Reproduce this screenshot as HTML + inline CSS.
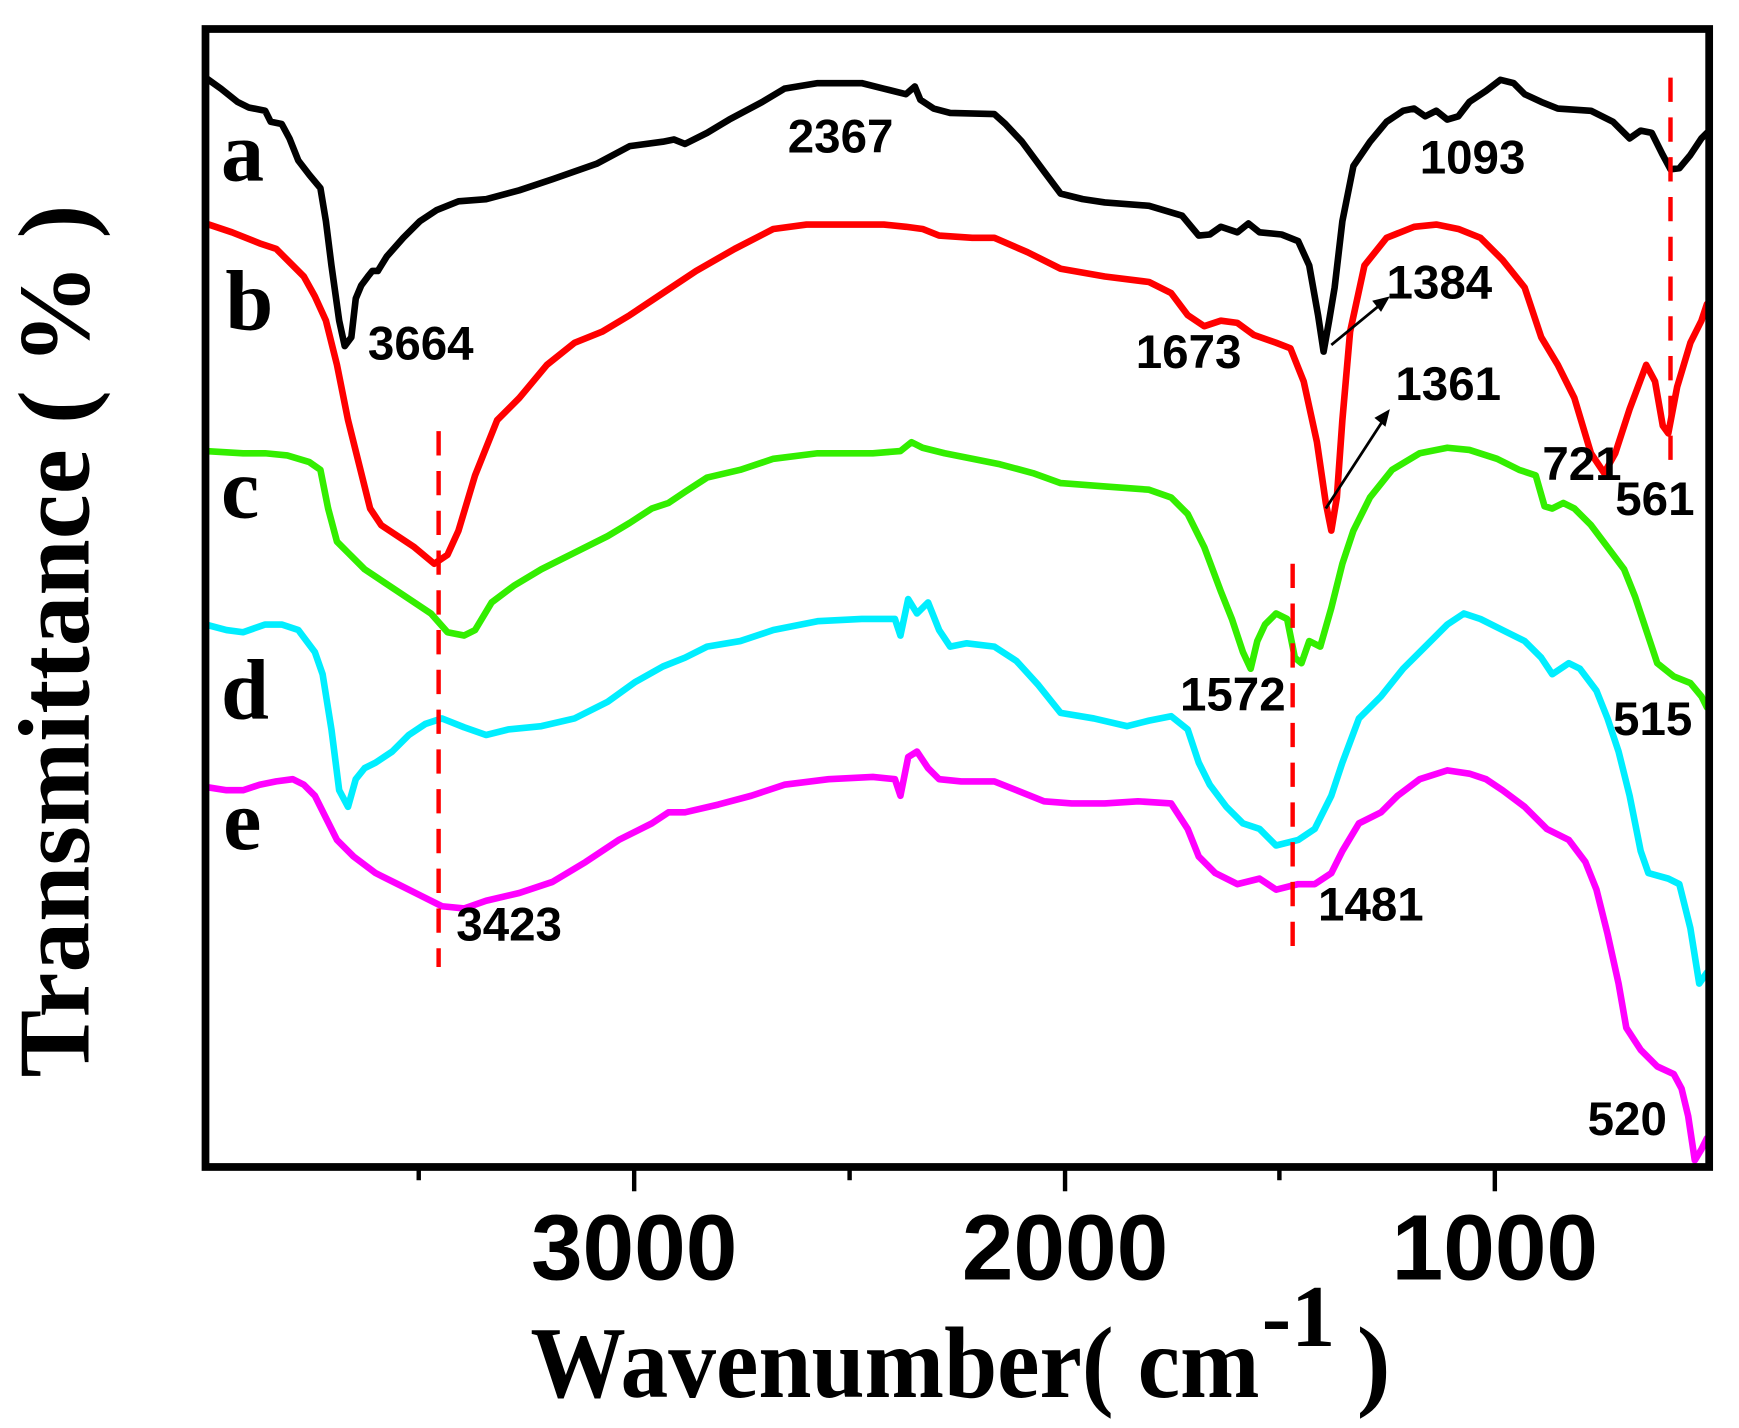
<!DOCTYPE html>
<html><head><meta charset="utf-8"><style>html,body{margin:0;padding:0;background:#fff}svg{display:block}</style></head>
<body>
<svg width="1739" height="1428" viewBox="0 0 1574 1292" xmlns="http://www.w3.org/2000/svg">
<g fill="none" stroke-linejoin="round" stroke-linecap="round" stroke-width="6">
<polyline stroke="#000" points="186,70 200,80 215,92 225,97 240,100 245,110 255,112 262,125 270,145 280,158 290,170 295,200 300,240 307,290 312,313 318,305 322,270 327,258 333,250 337,245 342,245 350,232 365,215 380,200 395,190 415,182 440,180 470,172 500,162 540,148 570,132 600,128 610,126 620,130 640,120 660,108 690,92 710,80 740,75 780,75 800,80 820,85 828,78 833,90 845,98 860,102 900,103 910,112 925,128 945,155 960,175 980,180 1000,183 1040,186 1070,195 1085,213 1095,212 1105,205 1120,210 1130,202 1140,210 1160,212 1175,218 1185,240 1193,285 1198,318 1203,290 1208,260 1215,200 1225,150 1240,128 1255,110 1270,100 1280,98 1290,105 1300,100 1310,108 1320,105 1330,92 1345,82 1358,72 1370,75 1380,85 1395,92 1410,98 1440,100 1460,110 1475,125 1485,118 1495,120 1505,140 1512,153 1520,152 1530,140 1540,125 1545,120"/>
<polyline stroke="#ff0000" points="186,202 210,210 235,220 250,225 262,237 275,250 285,268 295,290 305,330 315,380 325,420 335,460 345,475 360,485 375,495 393,510 405,502 415,480 430,430 450,380 470,360 495,330 520,310 545,300 570,285 600,265 630,245 665,225 700,207 730,203 800,203 820,205 835,207 850,213 880,215 900,215 930,228 960,243 1000,250 1040,255 1060,265 1075,285 1090,295 1105,290 1120,292 1135,303 1155,310 1168,315 1180,345 1192,400 1200,455 1205,480 1210,450 1215,380 1222,300 1235,240 1255,215 1280,205 1300,203 1320,207 1340,215 1360,235 1380,260 1395,305 1410,330 1425,360 1440,410 1452,428 1462,410 1475,370 1490,330 1498,345 1505,385 1510,392 1518,350 1530,310 1540,290 1545,275"/>
<polyline stroke="#33ee00" points="186,408 220,410 240,410 260,412 280,418 290,425 297,460 305,490 315,500 330,515 360,535 390,555 405,572 420,575 430,570 445,545 465,530 490,515 520,500 550,485 570,473 590,460 605,455 620,445 640,432 670,425 700,415 740,410 790,410 815,408 825,400 835,405 855,410 880,415 905,420 935,428 960,437 1000,440 1040,443 1060,450 1075,465 1090,495 1105,535 1115,560 1125,590 1132,605 1138,580 1145,565 1155,555 1165,560 1172,595 1178,600 1185,580 1195,585 1205,550 1215,510 1225,480 1240,450 1260,425 1285,410 1310,405 1330,407 1355,415 1375,425 1390,430 1398,458 1405,460 1415,455 1425,460 1440,475 1455,495 1470,515 1480,540 1490,570 1500,600 1515,612 1530,618 1540,630 1545,640"/>
<polyline stroke="#00eeff" points="186,565 205,570 220,572 240,565 255,565 270,570 285,590 292,610 300,660 307,715 315,730 322,705 330,695 340,690 355,680 370,665 385,655 400,650 420,658 440,665 460,660 490,657 520,650 550,635 575,617 600,603 620,595 640,585 670,580 700,570 740,562 780,560 810,560 815,575 822,542 830,555 840,545 850,570 860,585 875,582 900,585 920,598 940,620 960,645 990,650 1020,657 1040,652 1060,648 1075,660 1085,690 1095,710 1110,730 1125,745 1140,750 1155,765 1175,760 1190,750 1205,720 1215,690 1230,650 1250,630 1270,605 1290,585 1310,565 1325,555 1340,560 1360,570 1380,580 1395,595 1405,610 1420,600 1430,605 1445,625 1455,650 1465,680 1475,720 1485,770 1492,790 1510,795 1520,800 1525,820 1530,840 1538,890 1545,880"/>
<polyline stroke="#ff00ff" points="186,712 205,715 220,715 235,710 250,707 265,705 275,710 285,720 295,740 305,760 320,775 340,790 360,800 380,810 400,820 420,822 440,815 470,808 500,798 530,780 560,760 590,745 605,735 620,735 650,728 680,720 710,710 750,705 790,703 810,705 815,720 822,685 830,680 840,695 850,705 870,707 900,707 920,715 945,725 970,727 1000,727 1030,725 1060,727 1075,750 1085,775 1100,790 1120,800 1140,795 1155,805 1175,800 1190,800 1205,790 1215,770 1230,745 1250,735 1265,720 1285,705 1310,697 1330,700 1345,705 1360,715 1380,730 1400,750 1420,760 1435,780 1445,805 1455,845 1465,890 1472,930 1485,950 1500,965 1515,972 1522,985 1528,1010 1534,1050 1540,1040 1545,1030"/>
</g>
<g stroke="#ff0000" stroke-width="4" stroke-dasharray="22,14">
<line x1="397" y1="390" x2="397" y2="875"/>
<line x1="1170" y1="510" x2="1170" y2="870"/>
<line x1="1512" y1="70" x2="1512" y2="430"/>
</g>
<g stroke="#000" stroke-width="2.5">
<line x1="1205" y1="312" x2="1250" y2="275"/>
<line x1="1200" y1="460" x2="1252" y2="380"/>
</g>
<polygon points="1258,268 1242,272 1250,282" fill="#000"/>
<polygon points="1258,370 1244,378 1254,386" fill="#000"/>
<rect x="186" y="26" width="1361" height="1030" fill="none" stroke="#000" stroke-width="7"/>
<g stroke="#000" stroke-width="4">
<line x1="574" y1="1056" x2="574" y2="1078"/><line x1="964" y1="1056" x2="964" y2="1078"/><line x1="1353" y1="1056" x2="1353" y2="1078"/>
<line x1="379" y1="1056" x2="379" y2="1068"/><line x1="769" y1="1056" x2="769" y2="1068"/><line x1="1158" y1="1056" x2="1158" y2="1068"/>
</g>
<g font-family="Liberation Sans, Arial, sans-serif" font-weight="bold" font-size="84" text-anchor="middle">
<text x="574" y="1158">3000</text><text x="964" y="1158">2000</text><text x="1353" y="1158">1000</text>
</g>
<g font-family="Liberation Sans, Arial, sans-serif" font-weight="bold" font-size="43">
<text x="333" y="325">3664</text><text x="713" y="138">2367</text><text x="1285" y="157">1093</text>
<text x="1028" y="333">1673</text><text x="1255" y="270">1384</text><text x="1263" y="362">1361</text>
<text x="1396" y="434">721</text><text x="1462" y="466">561</text><text x="1068" y="643">1572</text>
<text x="1460" y="665">515</text><text x="413" y="851">3423</text><text x="1193" y="833">1481</text>
<text x="1437" y="1027">520</text>
</g>
<g font-family="Liberation Serif, Times New Roman, serif" font-weight="bold" font-size="78">
<text x="200" y="163">a</text><text x="204" y="298">b</text><text x="200" y="468">c</text><text x="200" y="650">d</text><text x="202" y="768">e</text>
</g>
<text x="480" y="1264" font-family="Liberation Serif, serif" font-weight="bold" font-size="92" textLength="660" lengthAdjust="spacingAndGlyphs">Wavenumber( cm</text>
<text x="1142" y="1218" font-family="Liberation Serif, serif" font-weight="bold" font-size="80">-1</text>
<text x="1228" y="1264" font-family="Liberation Serif, serif" font-weight="bold" font-size="92">)</text>
<text transform="translate(80,975) rotate(-90)" font-family="Liberation Serif, serif" font-weight="bold" font-size="92" textLength="790" lengthAdjust="spacingAndGlyphs">Transmittance ( % )</text>
</svg>
</body></html>
